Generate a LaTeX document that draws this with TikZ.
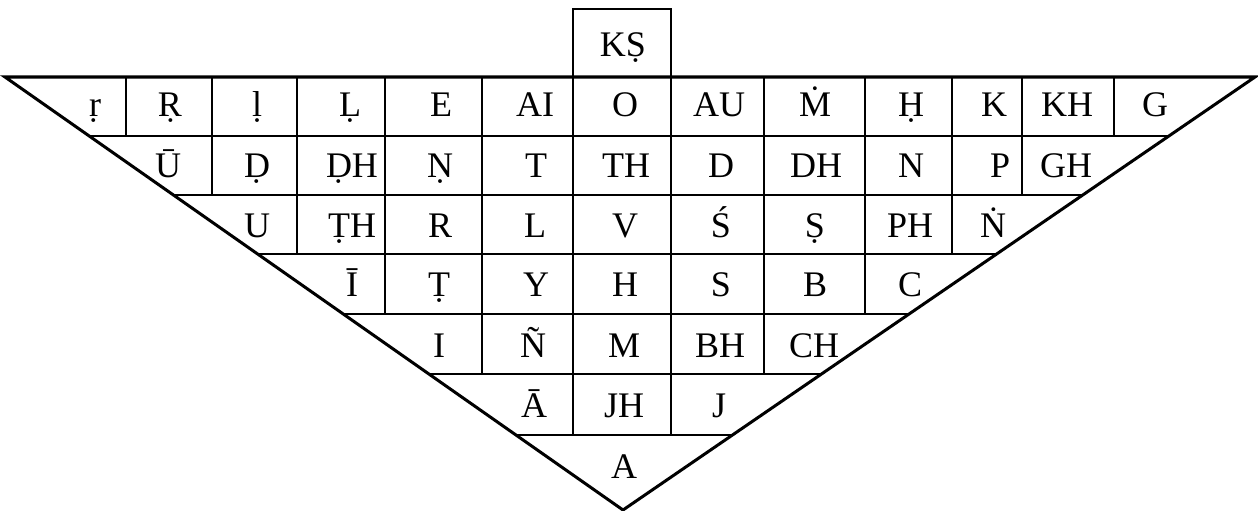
\documentclass[tikz,border=0pt]{standalone}
\usepackage{fontspec}
\setmainfont{Liberation Serif}
\usetikzlibrary{calc}
\begin{document}
\begin{tikzpicture}[x=1pt,y=-1pt,
  outer/.style={line width=3pt, line join=miter},
  inner/.style={line width=1.8pt},
  lbl/.style={anchor=base, inner sep=0pt, font=\fontsize{36}{40}\selectfont}]
\useasboundingbox (0,0) rectangle (1258,511);
\coordinate (TL) at (5,77);
\coordinate (TR) at (1255,77);
\coordinate (AP) at (623,510);
% horizontal row lines
\foreach \yy in {136,195,254,314,374,435}
  \draw[inner] ($(TL)!{(\yy-77)/433}!(AP)$) -- ($(TR)!{(\yy-77)/433}!(AP)$);
% vertical cell lines
\foreach \xx/\yb in {126/136,212/195,297/254,385/314,482/374,573/435,671/435,764/374,865/314,952/254,1022/195,1114/136}
  \draw[inner] (\xx,77) -- (\xx,\yb);
% top box
\draw[inner] (573,77) -- (573,9) -- (671,9) -- (671,77);
% outer triangle
\draw[outer] (TL) -- (TR) -- (AP) -- cycle;
% labels
\node[lbl] (ks) at (623,57) {KṢ};
% row 1
\node[lbl] (r1a) at (95,116) {ṛ};
\node[lbl] (r1b) at (170,116) {Ṛ};
\node[lbl] (r1c) at (257,116) {ḷ};
\node[lbl] (r1d) at (350,116) {Ḷ};
\node[lbl] (r1e) at (441,116) {E};
\node[lbl] (r1f) at (535,116) {AI};
\node[lbl] (r1g) at (625,116) {O};
\node[lbl] (r1h) at (719,116) {AU};
\node[lbl] (r1i) at (815,116) {Ṁ};
\node[lbl] (r1j) at (911,116) {Ḥ};
\node[lbl] (r1k) at (994,116) {K};
\node[lbl] (r1l) at (1067,116) {KH};
\node[lbl] (r1m) at (1155,116) {G};
% row 2
\node[lbl] (r2a) at (168,177) {Ū};
\node[lbl] (r2b) at (257,177) {Ḍ};
\node[lbl] (r2c) at (352,177) {ḌH};
\node[lbl] (r2d) at (440,177) {Ṇ};
\node[lbl] (r2e) at (536,177) {T};
\node[lbl] (r2f) at (626,177) {TH};
\node[lbl] (r2g) at (721,177) {D};
\node[lbl] (r2h) at (816,177) {DH};
\node[lbl] (r2i) at (911,177) {N};
\node[lbl] (r2j) at (1000,177) {P};
\node[lbl] (r2k) at (1066,177) {GH};
% row 3
\node[lbl] (r3a) at (257,237) {U};
\node[lbl] (r3b) at (352,237) {ṬH};
\node[lbl] (r3c) at (440,237) {R};
\node[lbl] (r3d) at (535,237) {L};
\node[lbl] (r3e) at (625,237) {V};
\node[lbl] (r3f) at (721,237) {Ś};
\node[lbl] (r3g) at (815,237) {Ṣ};
\node[lbl] (r3h) at (910,237) {PH};
\node[lbl] (r3i) at (993,237) {Ṅ};
% row 4
\node[lbl] (r4a) at (352,296) {Ī};
\node[lbl] (r4b) at (439,296) {Ṭ};
\node[lbl] (r4c) at (536,296) {Y};
\node[lbl] (r4d) at (625,296) {H};
\node[lbl] (r4e) at (721,296) {S};
\node[lbl] (r4f) at (815,296) {B};
\node[lbl] (r4g) at (910,296) {C};
% row 5
\node[lbl] (r5a) at (439,357) {I};
\node[lbl] (r5b) at (533,357) {Ñ};
\node[lbl] (r5c) at (624,357) {M};
\node[lbl] (r5d) at (720,357) {BH};
\node[lbl] (r5e) at (814,357) {CH};
% row 6
\node[lbl] (r6a) at (534,417) {Ā};
\node[lbl] (r6b) at (624,417) {JH};
\node[lbl] (r6c) at (719,417) {J};
% row 7
\node[lbl] (r7a) at (624,478) {A};
\end{tikzpicture}
\end{document}
